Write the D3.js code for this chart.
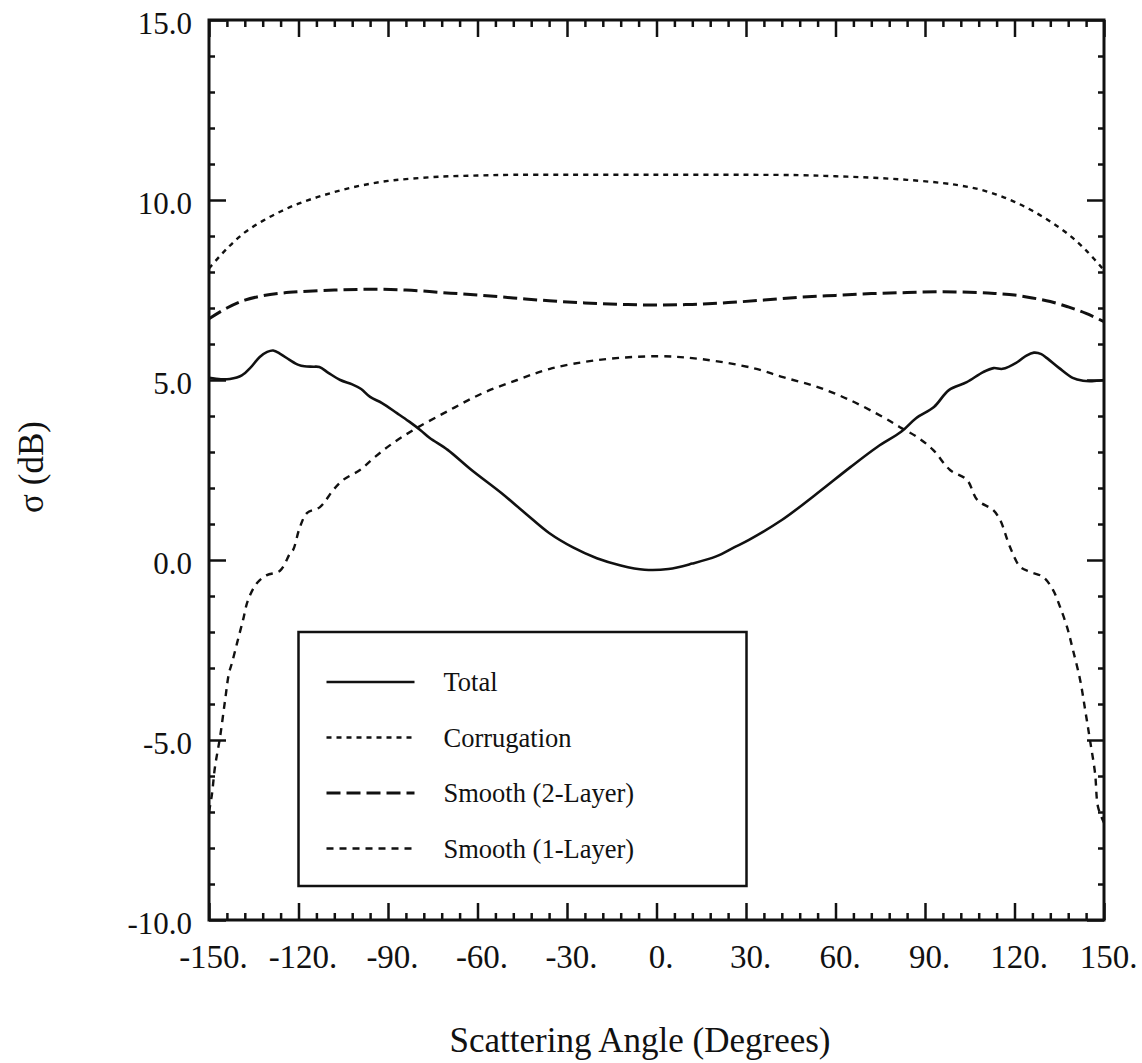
<!DOCTYPE html>
<html>
<head>
<meta charset="utf-8">
<script src="https://cdn.jsdelivr.net/npm/d3@7"></script>
<style>
  body { margin: 0; background: #fff; }
  svg { display: block; font-family: "Liberation Serif", "Times New Roman", serif; }
  .axis path { display: none; }
  .axis line { stroke: #111; }
  .axis text { fill: #111; font-family: "Liberation Serif", "Times New Roman", serif; }
</style>
</head>
<body>
<div id="chart"></div>
<script>
const width = 1142,
  height = 1063,
  margin = { top: 20, bottom: 143, left: 209, right: 38 };

// values (angle in degrees, sigma in dB)
const xMajorTicks = [-150, -120, -90, -60, -30, 0, 30, 60, 90, 120, 150];
const yMajorTicks = [-10, -5, 0, 5, 10, 15];

const totalAngles = [-150, -146, -143, -139, -136, -133, -130.5, -128.5, -126, -123, -120, -118, -115, -113, -110, -106, -102, -99, -96, -92, -87, -83, -79, -76, -70, -62, -52, -44, -36, -28, -20, -12, -4, 4, 12, 20, 26, 31, 42, 54, 65, 74, 82, 87, 93, 98, 104, 109.5, 113, 116, 121, 124, 126.5, 129, 131, 135, 139.5, 143, 146, 150];
const totalValues = [5.06, 5.02, 5.03, 5.13, 5.35, 5.64, 5.78, 5.82, 5.72, 5.56, 5.42, 5.38, 5.37, 5.36, 5.2, 5.0, 4.88, 4.75, 4.53, 4.36, 4.08, 3.85, 3.6, 3.39, 3.06, 2.5, 1.86, 1.3, 0.75, 0.35, 0.05, -0.15, -0.27, -0.25, -0.1, 0.1, 0.35, 0.56, 1.11, 1.86, 2.58, 3.14, 3.56, 3.94, 4.25, 4.72, 4.94, 5.22, 5.33, 5.31, 5.5, 5.68, 5.76, 5.72, 5.6, 5.33, 5.06, 4.98, 4.97, 5.0];

const corrugationAngles = [-150, -144, -138, -132, -126, -120, -114, -108, -102, -96, -90, -84, -72, -60, -48, -30, 0, 30, 48, 60, 72, 84, 96, 102, 108, 114, 120, 126, 132, 138, 144, 150];
const corrugationValues = [8.1, 8.65, 9.1, 9.42, 9.68, 9.9, 10.07, 10.22, 10.35, 10.45, 10.53, 10.58, 10.65, 10.68, 10.7, 10.7, 10.7, 10.7, 10.69, 10.66, 10.62, 10.56, 10.47, 10.4, 10.3, 10.15, 9.95, 9.7, 9.4, 9.05, 8.6, 8.05];

const smooth2Angles = [-150, -144, -138, -132, -126, -120, -108, -96, -84, -72, -60, -48, -36, -24, -12, 0, 12, 24, 36, 48, 60, 72, 84, 96, 108, 114, 120, 126, 132, 138, 144, 150];
const smooth2Values = [6.7, 7.0, 7.22, 7.34, 7.41, 7.45, 7.5, 7.52, 7.5, 7.43, 7.36, 7.28, 7.2, 7.14, 7.1, 7.08, 7.1, 7.15, 7.22, 7.3, 7.35, 7.4, 7.43, 7.45, 7.43, 7.4, 7.36, 7.28, 7.18, 7.03, 6.85, 6.62];

const smooth1Angles = [-150, -149, -148, -146.3, -144.6, -143.3, -142.3, -140.6, -138.6, -136.9, -133.9, -130.6, -126.2, -122.8, -121.8, -119.5, -117.1, -112.8, -108.4, -105.1, -99.4, -94.4, -88.3, -80.3, -69.2, -58.1, -46.7, -35.7, -20, 0, 15, 32.4, 42.4, 53.8, 64.9, 75.9, 81.6, 87.3, 92.7, 98.4, 104.1, 107.5, 112.8, 115.2, 118.5, 121.9, 125.2, 129.6, 132.9, 135.3, 137.6, 139.6, 142, 143.7, 145.3, 147, 148, 150];
const smooth1Values = [-7.0, -6.5, -5.75, -4.92, -3.89, -3.14, -2.86, -2.31, -1.67, -1.11, -0.64, -0.42, -0.3, 0.19, 0.28, 0.92, 1.31, 1.47, 1.94, 2.22, 2.5, 2.86, 3.25, 3.67, 4.17, 4.64, 5.0, 5.31, 5.55, 5.66, 5.58, 5.33, 5.08, 4.81, 4.44, 3.97, 3.69, 3.42, 3.06, 2.5, 2.22, 1.67, 1.39, 1.11, 0.36, -0.19, -0.33, -0.47, -0.83, -1.31, -1.86, -2.5, -3.33, -4.17, -5.0, -5.92, -6.86, -7.3];

const seriesNames = ["Total", "Corrugation", "Smooth (2-Layer)", "Smooth (1-Layer)"];
const seriesAngles = [totalAngles, corrugationAngles, smooth2Angles, smooth1Angles];
const seriesValues = [totalValues, corrugationValues, smooth2Values, smooth1Values];
const seriesDash = [null, "5,5", "14,6", "7,6"];
const seriesWidth = [2.6, 2.4, 3, 2.4];

const series = seriesNames.map((name, i) => ({
  name: name,
  dash: seriesDash[i],
  strokeWidth: seriesWidth[i],
  points: seriesAngles[i].map((a, j) => ({ angle: a, value: seriesValues[i][j] }))
}));

const xScale = d3.scaleLinear()
  .domain([-150, 150])
  .range([margin.left, width - margin.right]);

const yScale = d3.scaleLinear()
  .domain([-10, 15])
  .range([height - margin.bottom, margin.top]);

const xMinor = d3.range(-150, 151, 6).filter(d => d % 30 !== 0);
const yMinor = d3.range(-10, 15.1, 1).filter(d => d % 5 !== 0);

const svg = d3.select("#chart")
  .append("svg")
  .attr("width", width)
  .attr("height", height);

const plotBottom = height - margin.bottom;
const plotRight = width - margin.right;

svg.append("clipPath")
  .attr("id", "plot-clip")
  .append("rect")
  .attr("x", margin.left)
  .attr("y", margin.top)
  .attr("width", plotRight - margin.left)
  .attr("height", plotBottom - margin.top);

// curves
const line = d3.line()
  .x(d => xScale(d.angle))
  .y(d => yScale(d.value))
  .curve(d3.curveCatmullRom.alpha(0.5));

svg.append("g")
  .attr("clip-path", "url(#plot-clip)")
  .selectAll(".series")
  .data(series)
  .join("path")
  .attr("class", "series")
  .attr("fill", "none")
  .attr("stroke", "#111")
  .attr("stroke-width", d => d.strokeWidth)
  .attr("stroke-dasharray", d => d.dash)
  .attr("d", d => line(d.points));

// axes: ticks point inward on all four sides
function addAxis(axis, transform, withLabels) {
  const g = svg.append("g")
    .attr("class", "axis")
    .attr("transform", transform)
    .call(axis)
    .attr("font-family", null);
  g.selectAll("line").attr("stroke-width", 2.5);
  if (!withLabels) g.selectAll("text").remove();
  return g;
}

addAxis(d3.axisBottom(xScale).tickValues(xMajorTicks).tickSize(-17).tickPadding(25)
  .tickFormat(d => d + "."), `translate(0,${plotBottom})`, true)
  .selectAll("text")
  .attr("font-size", 33)
  .attr("dx", 4);
addAxis(d3.axisBottom(xScale).tickValues(xMinor).tickSize(-7).tickFormat(""), `translate(0,${plotBottom})`, false);
addAxis(d3.axisTop(xScale).tickValues(xMajorTicks).tickSize(-17).tickFormat(""), `translate(0,${margin.top})`, false);
addAxis(d3.axisTop(xScale).tickValues(xMinor).tickSize(-7).tickFormat(""), `translate(0,${margin.top})`, false);

addAxis(d3.axisLeft(yScale).tickValues(yMajorTicks).tickSize(-17).tickPadding(17)
  .tickFormat(d => d.toFixed(1)), `translate(${margin.left},0)`, true)
  .selectAll("text")
  .attr("font-size", 31)
  .attr("dy", "0.42em");
addAxis(d3.axisLeft(yScale).tickValues(yMinor).tickSize(-6).tickFormat(""), `translate(${margin.left},0)`, false);
addAxis(d3.axisRight(yScale).tickValues(yMajorTicks).tickSize(-17).tickFormat(""), `translate(${plotRight},0)`, false);
addAxis(d3.axisRight(yScale).tickValues(yMinor).tickSize(-6).tickFormat(""), `translate(${plotRight},0)`, false);

// frame
svg.append("rect")
  .attr("x", margin.left)
  .attr("y", margin.top)
  .attr("width", plotRight - margin.left)
  .attr("height", plotBottom - margin.top)
  .attr("fill", "none")
  .attr("stroke", "#111")
  .attr("stroke-width", 3);

// axis titles
svg.append("text")
  .attr("x", 640)
  .attr("y", 1052)
  .attr("text-anchor", "middle")
  .attr("font-size", 35)
  .attr("fill", "#111")
  .text("Scattering Angle (Degrees)");

svg.append("text")
  .attr("transform", "translate(43,467) rotate(-90)")
  .attr("text-anchor", "middle")
  .attr("font-size", 35)
  .attr("fill", "#111")
  .text("σ (dB)");

// legend
const legend = svg.append("g")
  .attr("transform", `translate(${xScale(-120)},${yScale(-2)})`);

legend.append("rect")
  .attr("width", 448)
  .attr("height", 254)
  .attr("fill", "#fff")
  .attr("stroke", "#111")
  .attr("stroke-width", 2.5);

const rows = legend.selectAll(".legend-row")
  .data(series)
  .join("g")
  .attr("class", "legend-row")
  .attr("transform", (d, i) => `translate(0,${50 + i * 55.5})`);

rows.append("line")
  .attr("x1", 28)
  .attr("x2", 116)
  .attr("stroke", "#111")
  .attr("stroke-width", d => d.strokeWidth)
  .attr("stroke-dasharray", d => d.dash);

rows.append("text")
  .attr("x", 145)
  .attr("dy", "0.35em")
  .attr("font-size", 26.5)
  .attr("fill", "#111")
  .text(d => d.name);
</script>
</body>
</html>
